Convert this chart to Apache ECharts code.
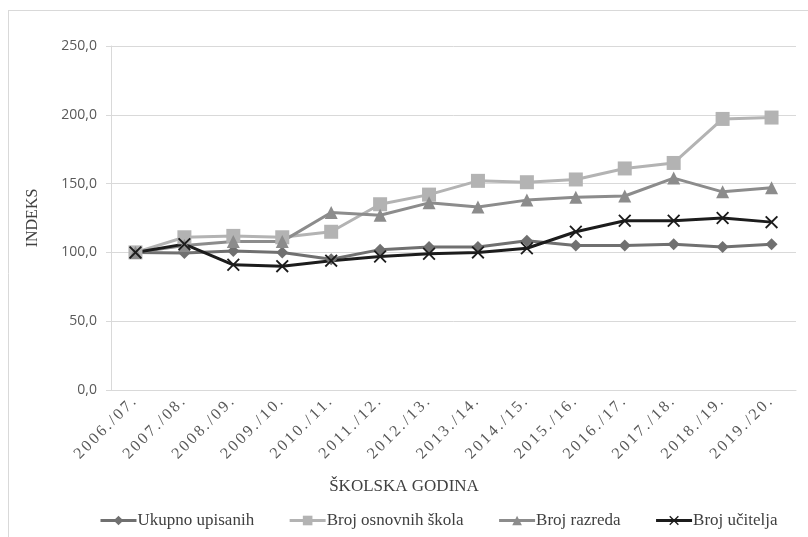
<!DOCTYPE html>
<html>
<head>
<meta charset="utf-8">
<script src="https://cdn.jsdelivr.net/npm/echarts@6/dist/echarts.min.js"></script>
<style>
  html, body { margin: 0; padding: 0; background: #ffffff; }
  #chart { width: 808px; height: 537px; }
</style>
</head>
<body>
<div id="chart"></div>
<script>
// School years (categories)
const years = ['2006./07.', '2007./08.', '2008./09.', '2009./10.', '2010./11.', '2011./12.', '2012./13.',
               '2013./14.', '2014./15.', '2015./16.', '2016./17.', '2017./18.', '2018./19.', '2019./20.'];

// Index values (2006./07. = 100)
const ukupnoUpisanih    = [100, 99.5, 101, 100, 95, 102, 104, 104, 108.5, 105, 105, 106, 104, 106];
const brojOsnovnihSkola = [100, 111, 112, 111, 115, 135, 142, 152, 151, 153, 161, 165, 197, 198];
const brojRazreda       = [100, 105, 108, 108, 129, 127, 136, 133, 138, 140, 141, 154, 144, 147];
const brojUcitelja      = [100, 106, 91, 90, 94, 97, 99, 100, 103, 115, 123, 123, 125, 122];

// Series names and value axis ticks
const seriesNames = ['Ukupno upisanih', 'Broj osnovnih škola', 'Broj razreda', 'Broj učitelja'];
const yTicks = [0, 50, 100, 150, 200, 250];
const xTitle = 'ŠKOLSKA GODINA';

const serif = "'Liberation Serif', 'Times New Roman', serif";
const sans = "'Open Sans', 'Liberation Sans', sans-serif";
const xMark = 'path://M1,0 L5,4 L9,0 L10,1 L6,5 L10,9 L9,10 L5,6 L1,10 L0,9 L4,5 L0,1 Z';

// Rotated category labels are drawn with a little extra letter spacing;
// save/restore keeps the spacing from leaking into other text
(function () {
  const proto = CanvasRenderingContext2D.prototype;
  const fill = proto.fillText;
  proto.fillText = function (text, x, y, maxWidth) {
    const args = maxWidth === undefined ? [text, x, y] : [text, x, y, maxWidth];
    if (years.indexOf(String(text)) >= 0 && 'letterSpacing' in this) {
      this.save();
      this.letterSpacing = '2.5px';
      fill.apply(this, args);
      this.restore();
      return;
    }
    fill.apply(this, args);
  };
})();

function lineSeries(name, data, color, symbol, size) {
  return {
    name: name,
    type: 'line',
    data: data,
    symbol: symbol,
    symbolSize: size,
    showAllSymbol: true,
    lineStyle: { color: color, width: 3 },
    itemStyle: { color: color, borderWidth: 0 },
    emphasis: { disabled: true },
    animation: false
  };
}

const chart = echarts.init(document.getElementById('chart'), null, { renderer: 'canvas' });

chart.setOption({
  backgroundColor: '#ffffff',
  animation: false,
  grid: { left: 111, right: 12, top: 46, bottom: 147, containLabel: false },
  graphic: [
    { type: 'line', shape: { x1: 8.5, y1: 10, x2: 8.5, y2: 537 }, style: { stroke: '#d9d9d9', lineWidth: 1 } },
    { type: 'line', shape: { x1: 8, y1: 10.5, x2: 808, y2: 10.5 }, style: { stroke: '#d9d9d9', lineWidth: 1 } },
    {
      type: 'text', left: 'center', top: 478,
      style: { text: xTitle, font: '17px ' + serif, fill: '#404040' },
      x: 2
    }
  ],
  xAxis: {
    type: 'category',
    data: years,
    boundaryGap: true,
    axisLine: { show: true, lineStyle: { color: '#d9d9d9', width: 1 } },
    axisTick: { show: false },
    axisLabel: {
      rotate: 45,
      interval: 0,
      margin: 8,
      color: '#595959',
      fontFamily: serif,
      fontSize: 16
    }
  },
  yAxis: {
    type: 'value',
    min: 0,
    max: 250,
    interval: 50,
    name: 'INDEKS',
    nameLocation: 'middle',
    nameGap: 70,
    nameRotate: 90,
    nameTextStyle: { fontFamily: serif, fontSize: 16, color: '#404040' },
    axisLine: { show: true, lineStyle: { color: '#d9d9d9', width: 1 } },
    axisTick: { show: true, length: 5, lineStyle: { color: '#d9d9d9' } },
    splitLine: { show: true, lineStyle: { color: '#d9d9d9', width: 1 } },
    axisLabel: {
      margin: 14,
      color: '#595959',
      fontFamily: sans,
      fontSize: 14,
      customValues: yTicks,
      formatter: function (v) { return v.toFixed(1).replace('.', ','); }
    }
  },
  legend: {
    bottom: 3,
    left: 94,
    itemWidth: 36,
    itemHeight: 12,
    itemGap: 34,
    lineStyle: { width: 3 },
    textStyle: { fontFamily: serif, fontSize: 17, color: '#404040', padding: [0, 0, 0, -4] },
    data: seriesNames
  },
  series: [
    lineSeries(seriesNames[0], ukupnoUpisanih, '#707070', 'diamond', 12),
    lineSeries(seriesNames[1], brojOsnovnihSkola, '#b3b3b3', 'rect', 14),
    lineSeries(seriesNames[2], brojRazreda, '#8c8c8c', 'triangle', 13),
    lineSeries(seriesNames[3], brojUcitelja, '#1c1c1c', xMark, 13)
  ]
});
</script>
</body>
</html>
